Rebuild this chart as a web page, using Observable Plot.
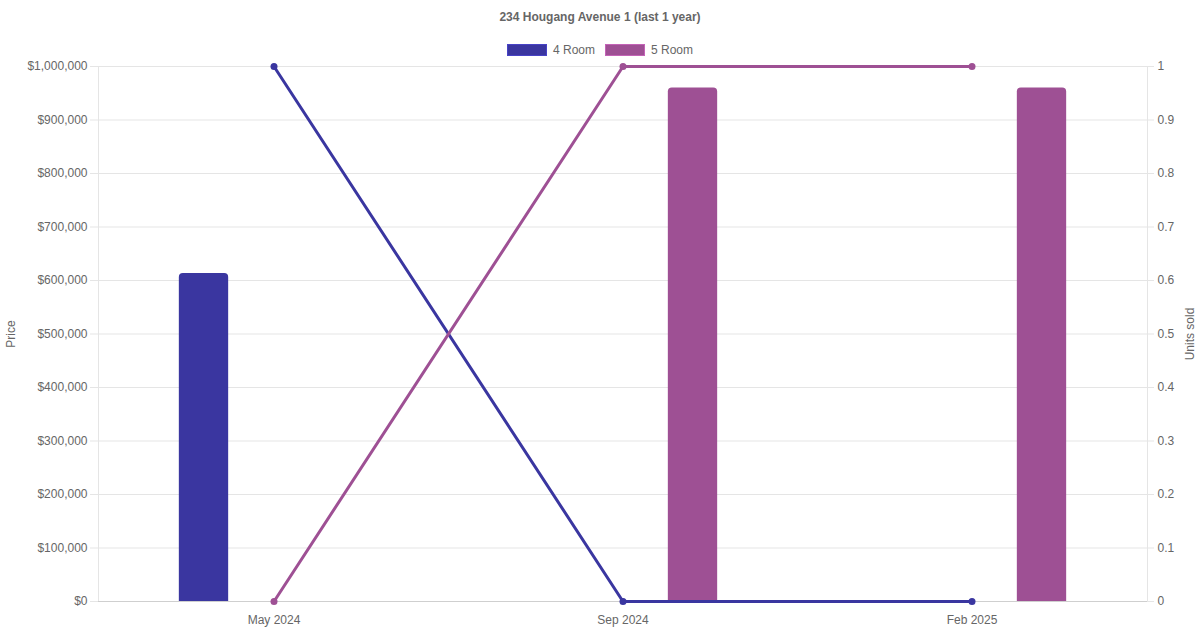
<!DOCTYPE html>
<html>
<head>
<meta charset="utf-8">
<script src="https://cdn.jsdelivr.net/npm/d3@7"></script>
<script src="https://cdn.jsdelivr.net/npm/@observablehq/plot@0.6"></script>
<style>
  body { margin: 0; background: #fff; font-family: "Liberation Sans", Arial, sans-serif; color: #666; }
  #title { height: 34px; line-height: 34px; text-align: center; font-size: 12px; font-weight: bold; color: #666; }
  #legend { display: flex; justify-content: center; align-items: center; padding-top: 10px; padding-bottom: 2px; height: 12px; font-size: 12px; }
  .item { display: flex; align-items: center; margin: 0 5px; }
  .sw { width: 38px; height: 10px; margin-right: 6px; border: 1px solid; }
</style>
</head>
<body>
<div id="title">234 Hougang Avenue 1 (last 1 year)</div>
<div id="legend"></div>
<div id="chart"></div>
<script>
const months = ["May 2024", "Sep 2024", "Feb 2025"];
const rooms = ["4 Room", "5 Room"];
const colors = ["#3a36a0", "#9e5094"];
const price4 = [613000, null, null];
const price5 = [null, 960000, 960000];
const units4 = [1, 0, 0];
const units5 = [0, 1, 1];
const priceTicks = d3.range(0, 1000001, 100000);

// legend
const legend = d3.select("#legend");
rooms.forEach((r, i) => {
  const it = legend.append("div").attr("class", "item");
  it.append("div").attr("class", "sw").style("background", colors[i]).style("border-color", d3.color(colors[i]).brighter(0.6));
  it.append("span").text(r);
});

const bars4 = months.map((m, i) => ({month: m, price: price4[i]})).filter(d => d.price != null);
const bars5 = months.map((m, i) => ({month: m, price: price5[i]})).filter(d => d.price != null);
const line4 = months.map((m, i) => ({month: m, units: units4[i]}));
const line5 = months.map((m, i) => ({month: m, units: units5[i]}));

const W = 1200, plotLeft = 98, plotRight = 53;
const band = (W - plotLeft - plotRight) / months.length;
const inset = (band - 50) / 2;
const toY = d => d.units * 1000000; // units share the price scale, right axis relabels it

let chart = Plot.plot({
  width: W,
  height: 572,
  marginTop: 8,
  marginBottom: 29,
  marginLeft: plotLeft,
  marginRight: plotRight,
  style: {fontFamily: "Liberation Sans, Arial, sans-serif", fontSize: "12px", color: "#666"},
  x: {type: "band", domain: months, padding: 0},
  y: {domain: [0, 1000000]},
  marks: [
    Plot.gridY(priceTicks, {stroke: "#e5e5e5", strokeOpacity: 1}),
    Plot.frame({stroke: "#e5e5e5"}),
    Plot.barY(bars4, {x: "month", y: "price", fill: colors[0], dx: -70, insetLeft: inset, insetRight: inset, ry1: 4}),
    Plot.barY(bars5, {x: "month", y: "price", fill: colors[1], dx: 70, insetLeft: inset, insetRight: inset, ry1: 4}),
    Plot.ruleY([0], {stroke: "#cfcfcf"}),
    Plot.axisX({tickSize: 0, tickPadding: 14, fill: "#666", label: null}),
    Plot.axisY({anchor: "left", ticks: priceTicks, tickFormat: d => "$" + d3.format(",")(d), tickSize: 8, tickPadding: 3,
      stroke: "#e5e5e5", fill: "#666", label: "Price", labelAnchor: "center", labelArrow: "none", labelOffset: 92}),
    Plot.axisY({anchor: "right", ticks: priceTicks, tickFormat: d => d3.format("")(+(d / 1000000).toFixed(1)), tickSize: 6, tickPadding: 4,
      stroke: "#e5e5e5", fill: "#666", label: "Units sold", labelAnchor: "center", labelArrow: "none", labelOffset: 46}),
    Plot.line(line4, {x: "month", y: toY, stroke: colors[0], strokeWidth: 3}),
    Plot.dot(line4, {x: "month", y: toY, fill: colors[0], r: 3.5}),
    Plot.line(line5, {x: "month", y: toY, stroke: colors[1], strokeWidth: 3}),
    Plot.dot(line5, {x: "month", y: toY, fill: colors[1], r: 3.5})
  ]
});

d3.select("#chart").append(() => chart);
</script>
</body>
</html>
